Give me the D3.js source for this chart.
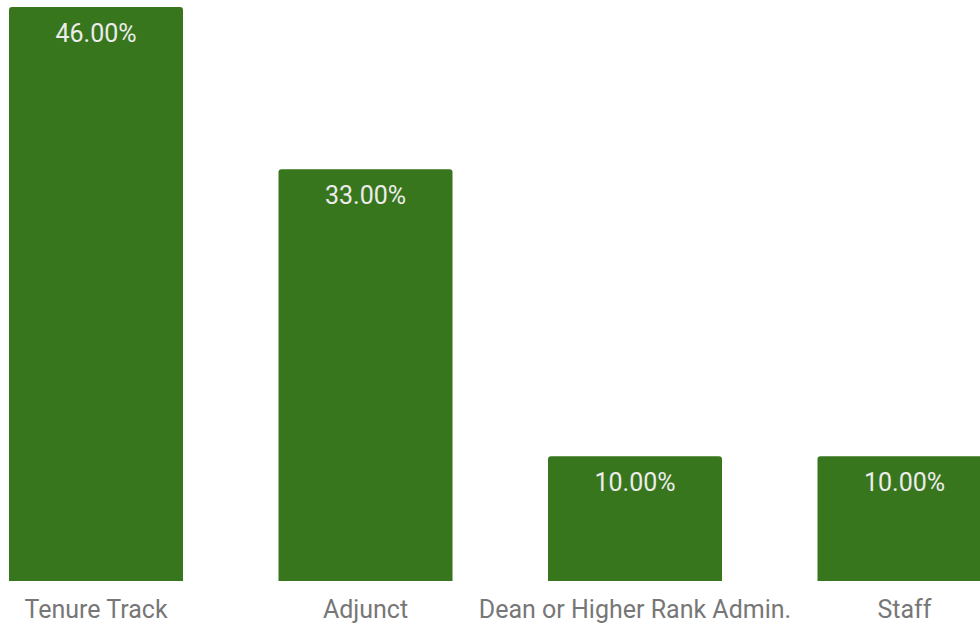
<!DOCTYPE html>
<html><head><meta charset="utf-8">
<script src="https://cdn.jsdelivr.net/npm/d3@7"></script>
<style>html,body{margin:0;padding:0;background:#fff;overflow:hidden}</style>
</head><body>
<svg id="chart" width="980" height="626"></svg>
<script>
const categories = ["Tenure Track", "Adjunct", "Dean or Higher Rank Admin.", "Staff"];
const values = [46, 33, 10, 10];

const svg = d3.select("#chart");
const step = 269.5, barW = 174;
const x = d3.scaleBand().domain(categories)
  .range([9, 9 + step * (categories.length - (1 - barW / step))])
  .paddingInner(1 - barW / step).paddingOuter(0);
const y = d3.scaleLinear().domain([0, 46]).range([581, 7]);

const g = svg.append("g");
g.selectAll("path.bar").data(categories).join("path")
  .attr("class", "bar")
  .attr("fill", "#38761d")
  .attr("d", (c, i) => {
    const x0 = x(c), x1 = x0 + x.bandwidth(), y0 = y(values[i]), yb = y(0), r = 3;
    return `M${x0},${yb}V${y0 + r}Q${x0},${y0} ${x0 + r},${y0}H${x1 - r}Q${x1},${y0} ${x1},${y0 + r}V${yb}Z`;
  });

g.selectAll("text.val").data(categories).join("text")
  .attr("class", "val")
  .attr("x", c => x(c) + x.bandwidth() / 2)
  .attr("y", (c, i) => y(values[i]) + 35)
  .attr("text-anchor", "middle")
  .attr("font-family", "Roboto")
  .attr("font-size", 25)
  .attr("fill", "#ececec")
  .text((c, i) => values[i].toFixed(2) + "%");

const axis = d3.axisBottom(x).tickSize(0).tickPadding(0);
const ax = svg.append("g").attr("transform", "translate(0,618)").call(axis);
ax.select(".domain").remove();
ax.selectAll("text")
  .attr("font-family", "Roboto")
  .attr("font-size", 25)
  .attr("fill", "#777777")
  .attr("dy", "0");
</script>
</body></html>
